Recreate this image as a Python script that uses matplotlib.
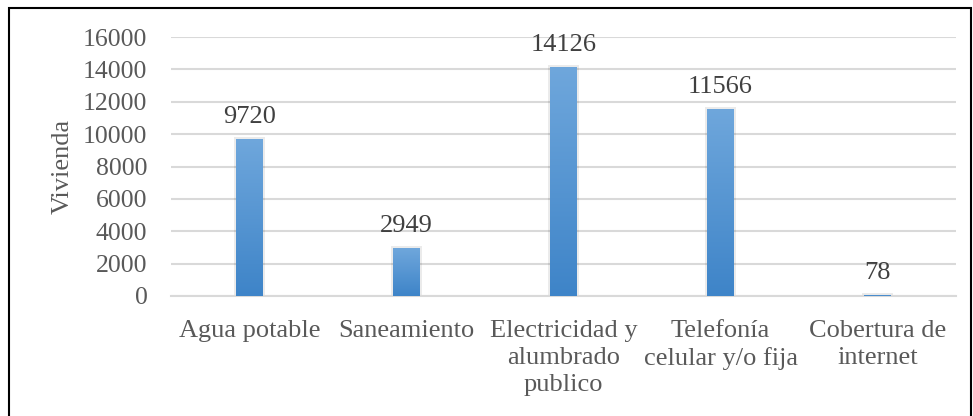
import matplotlib.pyplot as plt
import numpy as np
from matplotlib.patches import Rectangle

categories = [
    "Agua potable",
    "Saneamiento",
    "Electricidad y\nalumbrado\npublico",
    "Telefonía\ncelular y/o fija",
    "Cobertura de\ninternet",
]
values = [9720, 2949, 14126, 11566, 78]
yticks = [0, 2000, 4000, 6000, 8000, 10000, 12000, 14000, 16000]

TEXT = "#595959"
LABEL = "#404040"
GRID = "#d9d9d9"
TOP_BLUE = np.array([0x6f, 0xa7, 0xdc]) / 255
BOT_BLUE = np.array([0x3e, 0x84, 0xc8]) / 255
FS = 19

plt.rcParams["font.family"] = ["Liberation Serif", "DejaVu Serif"]

fig = plt.figure(figsize=(9.73, 4.16), dpi=100)
ax = fig.add_axes([171 / 973, 1 - 296 / 416, 785 / 973, 259 / 416])

x = np.arange(len(categories))
width = 0.17
bars = ax.bar(x, values, width=width, color=BOT_BLUE, zorder=3,
              edgecolor="none")

# vertical gradient inside each bar
grad = np.linspace(0, 1, 256)[:, None, None]
img = BOT_BLUE * (1 - grad) + TOP_BLUE * grad
for b in bars:
    bx, by = b.get_x(), b.get_y()
    bw, bh = b.get_width(), b.get_height()
    if bh <= 0:
        continue
    im = ax.imshow(img, extent=[bx, bx + bw, by, by + bh], origin="lower",
                   aspect="auto", zorder=3.5)
    im.set_clip_path(b)
    # soft shadow
    ax.add_patch(Rectangle((bx - 0.012, by), bw + 0.024, bh + 120,
                           color="#000000", alpha=0.08, zorder=2.5, lw=0))

for xi, v in zip(x, values):
    ax.annotate(f"{v}", xy=(xi, v), xytext=(0, 8), textcoords="offset points",
                ha="center", va="bottom", fontsize=FS, color=LABEL)

ax.set_xlim(-0.5, len(categories) - 0.5)
ax.set_ylim(0, 16000)
ax.set_yticks(yticks)
ax.set_yticklabels([str(t) for t in yticks], fontsize=18.5, color=TEXT)
ax.set_xticks(x)
ax.set_xticklabels(categories, fontsize=FS, color=TEXT, linespacing=1.3,
                   va="top")
ax.tick_params(axis="both", length=0)
ax.tick_params(axis="y", pad=17)
ax.tick_params(axis="x", pad=17)
ax.grid(axis="y", color=GRID, linewidth=1.5, zorder=0)
for s in ["top", "right", "left"]:
    ax.spines[s].set_visible(False)
ax.spines["bottom"].set_color(GRID)
ax.spines["bottom"].set_linewidth(1.5)
ax.set_ylabel("Vivienda", fontsize=FS, color=TEXT, labelpad=7)

# chart frame border
fig.patches.append(Rectangle((9 / 973, -0.05), 962 / 973, 1.05 - 8 / 416,
                             transform=fig.transFigure, fill=False,
                             edgecolor="black", linewidth=1.5))

fig.savefig("out.png", dpi=100)
